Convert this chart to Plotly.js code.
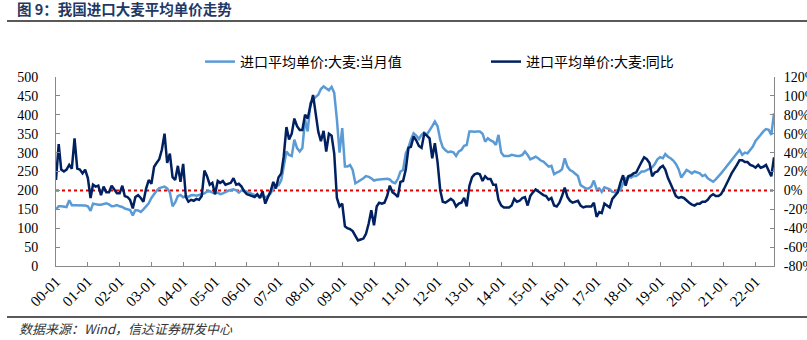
<!DOCTYPE html>
<html><head><meta charset="utf-8">
<script src="https://cdn.plot.ly/plotly-3.0.1.min.js"></script>
<style>body{margin:0;background:#fff}#chart{width:807px;height:340px}</style>
</head><body><div id="chart"></div>
<script>
const startYear = 2000, startMonth = 1;
const titleText = '图 9：我国进口大麦平均单价走势';
const sourceText = '数据来源：Wind，信达证券研发中心';
const seriesNames = ['进口平均单价:大麦:当月值', '进口平均单价:大麦:同比'];
const refLevel = 200;
const leftTicks = [0, 50, 100, 150, 200, 250, 300, 350, 400, 450, 500];
const rightTicks = [-80, -60, -40, -20, 0, 20, 40, 60, 80, 100, 120];

// 进口平均单价:大麦:当月值 (left axis)
const priceMonthly = [
 150,158,158,157,156,174,161,161,161,161,161,160,
 158,146,165,163,162,162,163,166,163,158,159,161,
 158,156,152,150,148,134,148,147,143,150,157,166,
 180,192,199,206,209,210,205,195,158,168,185,188,
 182,185,183,187,188,186,188,190,192,197,198,194,
 192,194,190,192,196,199,201,203,200,194,200,200,
 197,194,190,188,185,185,183,182,185,192,205,212,
 214,227,263,303,294,291,334,312,303,312,387,356,
 431,440,447,453,468,475,471,465,474,458,387,300,
 365,263,263,267,254,219,223,227,232,238,236,232,
 226,228,229,229,230,231,229,222,219,230,250,254,
 298,314,334,351,345,336,347,353,348,358,370,382,
 370,334,314,306,301,303,301,291,303,307,318,320,
 356,356,355,356,356,350,329,338,332,329,320,347,
 300,291,291,291,294,292,291,291,294,303,294,282,
 285,289,285,279,276,270,263,265,243,247,250,256,
 285,263,254,250,243,238,214,210,205,205,210,226,
 203,205,196,208,205,203,196,195,199,201,219,232,
 236,234,238,238,243,250,250,254,256,261,270,282,
 288,285,296,289,285,279,270,256,234,243,254,250,
 245,250,247,245,238,241,232,227,223,229,236,245,
 254,263,272,281,288,298,307,294,300,298,307,316,
 331,338,347,356,362,360,347,404
];

// 进口平均单价:大麦:同比 (right axis, %)
const priceYoY = [
 11,49,22,20,22,27,23,55,23,22,18,22,
 13,-8,6,4,5,-5,4,-2,-2,5,1,-3,
 -3,5,-6,-7,-10,-19,-7,-5,-8,-12,2,11,
 7,25,29,33,43,60,29,39,14,11,26,9,
 28,-7,-12,-10,-11,-9,-10,-6,21,15,6,8,
 -4,10,8,10,6,7,8,13,6,7,4,-1,
 -4,-5,-6,-7,-4,-8,-1,-14,-7,-1,9,2,
 14,18,36,67,54,60,76,68,64,64,80,76,
 89,101,82,62,52,63,41,60,58,39,-8,-17,
 -14,-38,-40,-41,-43,-48,-53,-52,-51,-46,-35,-21,
 -37,-17,-13,-14,-13,-6,5,-2,-4,-7,9,10,
 22,45,46,57,53,47,45,60,58,55,34,50,
 30,0,-12,-13,-11,-9,-11,-17,-14,-13,-8,-17,
 5,14,17,18,17,10,15,12,12,6,6,-10,
 -16,-18,-18,-18,-16,-9,-12,-11,-8,-7,-16,-6,
 -2,1,-1,-3,-5,-6,-10,-8,-16,-17,-13,-6,
 3,-7,-11,-13,-12,-11,-16,-18,-17,-17,-17,-13,
 -28,-23,-24,-14,-16,-18,-9,-5,-2,8,16,5,
 15,16,18,19,25,30,35,33,29,15,19,20,
 24,26,22,13,7,1,-6,-8,-7,-8,-11,-13,
 -15,-16,-14,-14,-12,-12,-10,-6,-4,-6,-6,-4,
 1,6,12,18,22,27,32,32,30,30,27,26,
 24,27,24,25,27,21,15,35
];

const dates = priceMonthly.map((_, i) => {
  const k = startMonth - 1 + i;
  const y = startYear + Math.floor(k / 12);
  const m = (k % 12) + 1;
  return y + '-' + String(m).padStart(2, '0') + '-01';
});

const tickFont = {family: 'Liberation Serif, Times New Roman, serif', size: 14, color: '#000'};

const traces = [
  {x: dates, y: priceMonthly, name: seriesNames[0], type: 'scatter', mode: 'lines',
   line: {color: '#5B9BD5', width: 2.5}, yaxis: 'y', hoverinfo: 'skip'},
  {x: dates, y: priceYoY, name: seriesNames[1], type: 'scatter', mode: 'lines',
   line: {color: '#002060', width: 2.5}, yaxis: 'y2', hoverinfo: 'skip'}
];

const layout = {
  width: 807, height: 340,
  margin: {l: 56, r: 33, t: 77, b: 74},
  paper_bgcolor: '#fff', plot_bgcolor: 'rgba(0,0,0,0)',
  title: {text: '<b>' + titleText + '</b>', xref: 'container', yref: 'container',
          x: 17 / 807, xanchor: 'left', y: 1 - 10 / 340, yanchor: 'middle',
          font: {family: 'Noto Sans CJK SC', size: 14.5, color: '#1F3864'}},
  showlegend: true,
  legend: {orientation: 'h', x: (200 - 56) / 718, xanchor: 'left', y: (266 - 46) / 189, yanchor: 'top',
           entrywidth: 241, entrywidthmode: 'pixels', bgcolor: 'rgba(0,0,0,0)',
           font: {family: 'Noto Sans CJK SC', size: 14, color: '#000'}},
  xaxis: {type: 'date', range: [dates[0], dates[dates.length - 1]], tick0: dates[0], dtick: 'M12',
          tickformat: '%y-%m', tickangle: -45, ticks: 'inside', ticklen: 4, tickcolor: '#888',
          showline: true, linecolor: '#888', linewidth: 1, showgrid: false, zeroline: false,
          tickfont: {family: 'Liberation Serif, serif', size: 15, color: '#000'}},
  yaxis: {range: [0, 500], tickvals: leftTicks, ticks: 'inside', ticklen: 4, tickcolor: '#888',
          showline: true, linecolor: '#888', linewidth: 1, showgrid: false, zeroline: false,
          tickfont: tickFont, ticklabelstandoff: 14},
  yaxis2: {overlaying: 'y', side: 'right', range: [-80, 120], tickmode: 'array', tickvals: rightTicks,
           ticktext: rightTicks.map(v => v + '%'),
           ticks: 'inside', ticklen: 4, tickcolor: '#888', showline: true, linecolor: '#888', linewidth: 1,
           showgrid: false, zeroline: false, tickfont: tickFont, ticklabelstandoff: 6},
  shapes: [
    {type: 'line', xref: 'paper', yref: 'y', x0: 0, x1: 1, y0: refLevel, y1: refLevel,
     line: {color: '#E00000', width: 2, dash: 'dot'}, layer: 'below'},
    {type: 'line', xref: 'paper', yref: 'paper', x0: (7 - 56) / 718, x1: (807 - 56) / 718,
     y0: (266 - 21) / 189, y1: (266 - 21) / 189, line: {color: '#595959', width: 2}},
    {type: 'line', xref: 'paper', yref: 'paper', x0: (7 - 56) / 718, x1: (807 - 56) / 718,
     y0: (266 - 317) / 189, y1: (266 - 317) / 189, line: {color: '#595959', width: 2}}
  ],
  annotations: [
    {xref: 'paper', yref: 'paper', x: (17 - 56) / 718, xanchor: 'left', y: (266 - 328) / 189, yanchor: 'middle',
     text: '<i>' + sourceText + '</i>', showarrow: false,
     font: {family: 'Noto Sans CJK SC', size: 13, color: '#333'}}
  ]
};

Plotly.newPlot('chart', traces, layout, {staticPlot: true, displayModeBar: false});
</script>
</body></html>
